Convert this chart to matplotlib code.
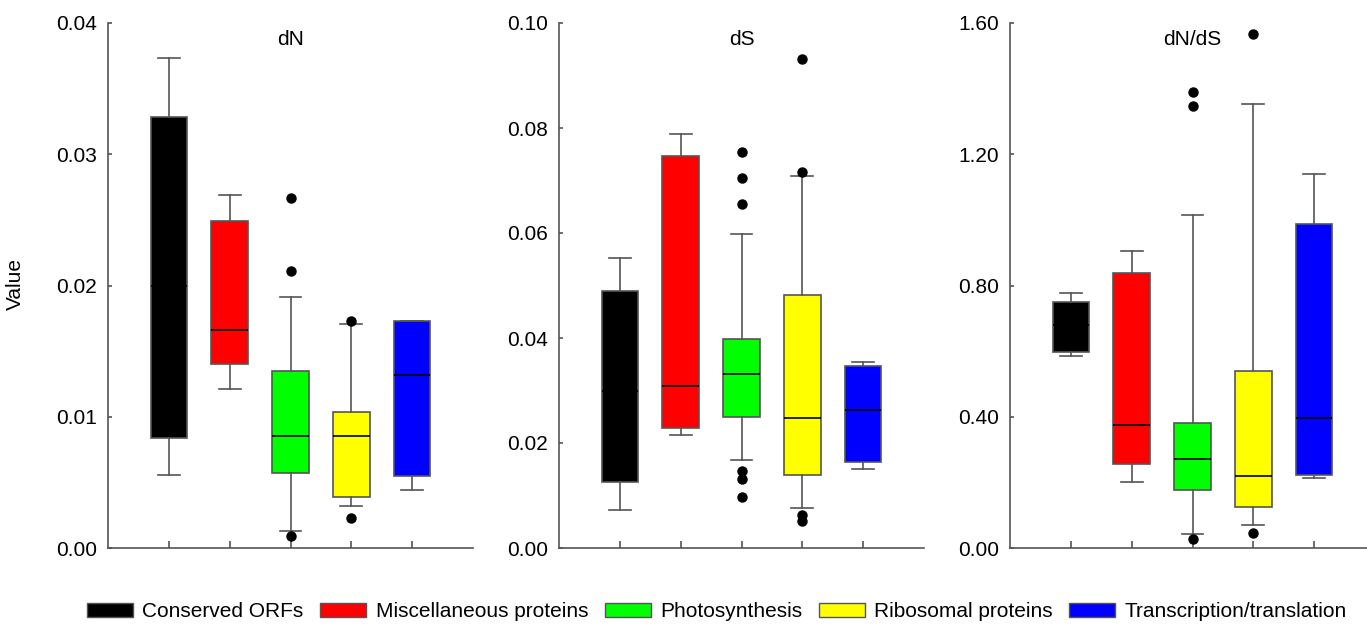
import matplotlib
matplotlib.use('Agg')
import matplotlib.pyplot as plt
from matplotlib.patches import Patch

plt.rcParams['font.family'] = ['Liberation Sans', 'DejaVu Sans']

categories = ['Conserved ORFs', 'Miscellaneous proteins', 'Photosynthesis',
              'Ribosomal proteins', 'Transcription/translation']
colors = ['#000000', '#ff0000', '#00ff00', '#ffff00', '#0000ff']

# dN
dn_whislo = [0.0056, 0.0121, 0.0013, 0.0032, 0.0044]
dn_q1 = [0.0084, 0.0140, 0.0057, 0.0039, 0.0055]
dn_med = [0.0200, 0.0166, 0.0085, 0.0085, 0.0132]
dn_q3 = [0.0328, 0.0249, 0.0135, 0.0104, 0.0173]
dn_whishi = [0.0373, 0.0269, 0.0191, 0.0171, 0.0173]
dn_fliers = [[], [], [0.0267, 0.0211, 0.0009], [0.0173, 0.0023], []]

# dS
ds_whislo = [0.0072, 0.0215, 0.0168, 0.0076, 0.0151]
ds_q1 = [0.0126, 0.0229, 0.0249, 0.0139, 0.0164]
ds_med = [0.0300, 0.0309, 0.0332, 0.0248, 0.0262]
ds_q3 = [0.0489, 0.0747, 0.0398, 0.0481, 0.0346]
ds_whishi = [0.0552, 0.0789, 0.0598, 0.0709, 0.0354]
ds_fliers = [[], [], [0.0754, 0.0704, 0.0655, 0.0146, 0.0131, 0.0097],
             [0.0932, 0.0716, 0.0062, 0.0051], []]

# dN/dS
dnds_whislo = [0.585, 0.200, 0.044, 0.071, 0.212]
dnds_q1 = [0.597, 0.257, 0.178, 0.125, 0.223]
dnds_med = [0.680, 0.374, 0.271, 0.219, 0.395]
dnds_q3 = [0.751, 0.837, 0.381, 0.539, 0.987]
dnds_whishi = [0.777, 0.906, 1.015, 1.353, 1.140]
dnds_fliers = [[], [], [1.391, 1.347, 0.028], [1.568, 0.047], []]

panels = [
    ('dN', dn_whislo, dn_q1, dn_med, dn_q3, dn_whishi, dn_fliers,
     [0.00, 0.01, 0.02, 0.03, 0.04], '%.2f'),
    ('dS', ds_whislo, ds_q1, ds_med, ds_q3, ds_whishi, ds_fliers,
     [0.00, 0.02, 0.04, 0.06, 0.08, 0.10], '%.2f'),
    ('dN/dS', dnds_whislo, dnds_q1, dnds_med, dnds_q3, dnds_whishi, dnds_fliers,
     [0.00, 0.40, 0.80, 1.20, 1.60], '%.2f'),
]

fig = plt.figure(figsize=(13.67, 6.25), dpi=100)
lefts = [108, 559, 1010]
grey = '#555555'

for (title, wlo, q1, med, q3, whi, fl, yticks, fmt), left in zip(panels, lefts):
    ax = fig.add_axes([left / 1367, 1 - 548 / 625, 365 / 1367, 525 / 625])
    stats = []
    for i in range(len(categories)):
        stats.append({'whislo': wlo[i], 'q1': q1[i], 'med': med[i],
                      'q3': q3[i], 'whishi': whi[i], 'fliers': fl[i]})
    bp = ax.bxp(stats, positions=range(1, 6), widths=0.6, capwidths=0.36,
                patch_artist=True, showfliers=True,
                boxprops=dict(edgecolor=grey, linewidth=1.2),
                whiskerprops=dict(color=grey, linewidth=1.2),
                capprops=dict(color=grey, linewidth=1.2),
                medianprops=dict(color='black', linewidth=1.2),
                flierprops=dict(marker='o', markerfacecolor='black',
                                markeredgecolor='black', markersize=6.5))
    for patch, c in zip(bp['boxes'], colors):
        patch.set_facecolor(c)
    ax.set_xlim(0, 6)
    ax.set_ylim(yticks[0], yticks[-1])
    ax.set_yticks(yticks)
    ax.set_yticklabels([fmt % t for t in yticks])
    ax.set_xticks(range(1, 6))
    ax.set_xticklabels([])
    for s in ['top', 'right']:
        ax.spines[s].set_visible(False)
    for s in ['left', 'bottom']:
        ax.spines[s].set_color(grey)
        ax.spines[s].set_linewidth(1.2)
    ax.tick_params(axis='y', direction='in', length=3, width=1.2,
                   color=grey, labelsize=15, pad=8)
    ax.tick_params(axis='x', direction='in', length=5, width=1.2, color=grey)
    ax.text(0.5, 0.968, title, transform=ax.transAxes, ha='center',
            va='center', fontsize=15)

fig.text(0.011, 0.545, 'Value', rotation=90, ha='center', va='center',
         fontsize=15)

handles = [Patch(facecolor=c, edgecolor=grey, linewidth=1) for c in colors]
fig.legend(handles, categories, loc='center', bbox_to_anchor=(0.5245, 0.021),
           ncol=5, frameon=False, fontsize=15, handlelength=2.2,
           handleheight=0.7, handletextpad=0.45, columnspacing=0.8,
           borderaxespad=0)

fig.savefig('out.png', dpi=100)
